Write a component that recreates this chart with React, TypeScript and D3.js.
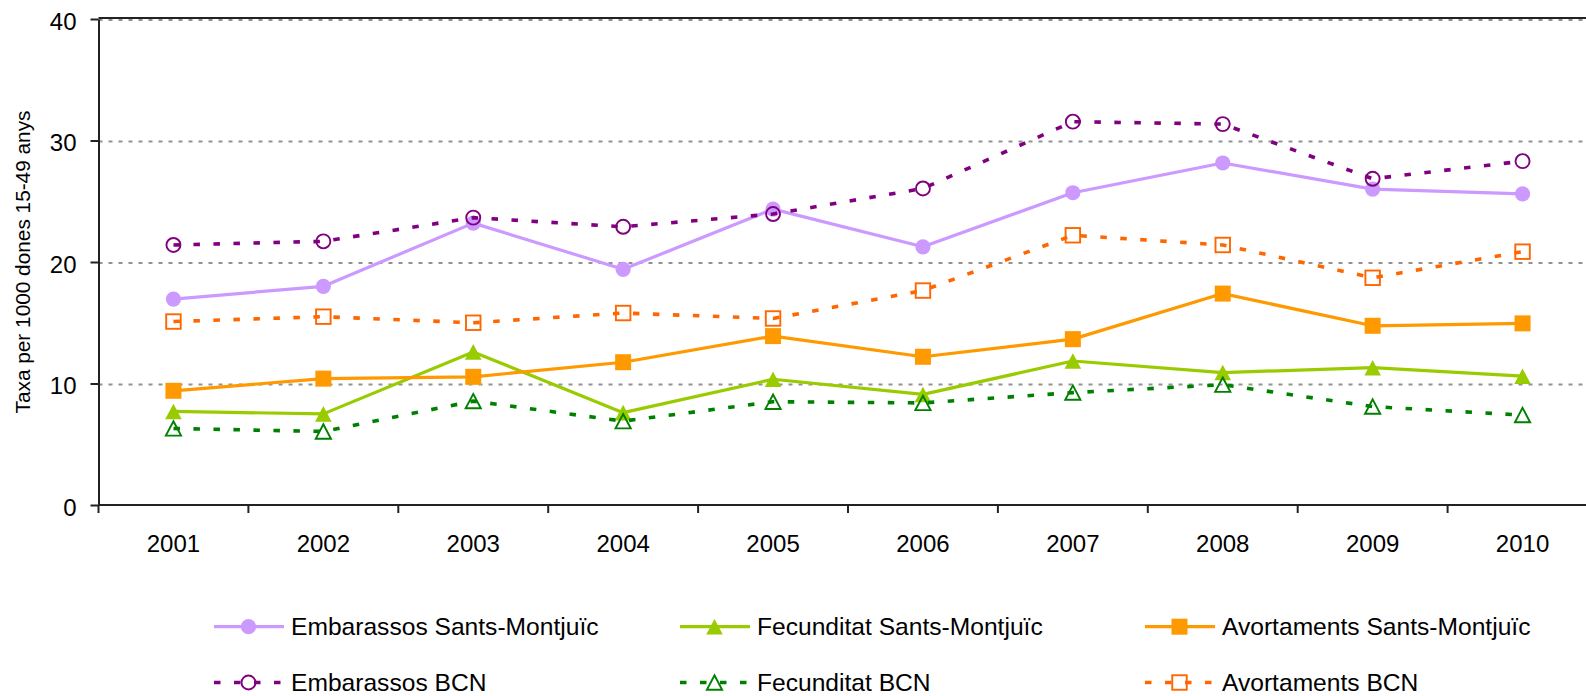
import * as React from 'react';
import { useEffect, useRef } from 'react';
import * as d3 from 'd3';

const years = ['2001', '2002', '2003', '2004', '2005', '2006', '2007', '2008', '2009', '2010'];
const embarassosSM = [16.95, 18.0, 23.2, 19.4, 24.35, 21.25, 25.7, 28.15, 26.0, 25.6];
const fecunditatSM = [7.7, 7.5, 12.6, 7.6, 10.35, 9.1, 11.85, 10.9, 11.3, 10.6];
const avortamentsSM = [9.4, 10.4, 10.55, 11.75, 13.9, 12.2, 13.65, 17.4, 14.75, 14.95];
const embarassosBCN = [21.4, 21.7, 23.65, 22.9, 23.95, 26.05, 31.55, 31.35, 26.85, 28.3];
const fecunditatBCN = [6.3, 6.05, 8.55, 6.9, 8.5, 8.4, 9.25, 9.9, 8.1, 7.4];
const avortamentsBCN = [15.1, 15.5, 15.0, 15.8, 15.35, 17.65, 22.2, 21.4, 18.7, 20.85];
const yTicks = [0, 10, 20, 30, 40];
const yTitle = 'Taxa per 1000 dones 15-49 anys';

type Marker = 'circle' | 'triangle' | 'square';
type Serie = { name: string; values: number[]; color: string; dashed: boolean; marker: Marker; filled: boolean };

// legend order (row by row), also drawing order
const series: Serie[] = [
  { name: 'Embarassos Sants-Montjuïc', values: embarassosSM, color: '#CC99FF', dashed: false, marker: 'circle', filled: true },
  { name: 'Fecunditat Sants-Montjuïc', values: fecunditatSM, color: '#99CC00', dashed: false, marker: 'triangle', filled: true },
  { name: 'Avortaments Sants-Montjuïc', values: avortamentsSM, color: '#FF9900', dashed: false, marker: 'square', filled: true },
  { name: 'Embarassos BCN', values: embarassosBCN, color: '#800080', dashed: true, marker: 'circle', filled: false },
  { name: 'Fecunditat BCN', values: fecunditatBCN, color: '#008000', dashed: true, marker: 'triangle', filled: false },
  { name: 'Avortaments BCN', values: avortamentsBCN, color: '#FF6600', dashed: true, marker: 'square', filled: false },
];

const FONT = '"Liberation Sans", Arial, sans-serif';
const DASH = '6.5,13.5';

function drawMarker(g: any, m: Marker, cx: number, cy: number, color: string, filled: boolean) {
  const fill = filled ? color : 'none';
  const sw = filled ? 0 : 1.9;
  if (m === 'circle') {
    g.append('circle').attr('cx', cx).attr('cy', cy).attr('r', filled ? 7.6 : 7)
      .attr('fill', fill).attr('stroke', color).attr('stroke-width', sw);
  } else if (m === 'square') {
    const s = filled ? 16 : 14.5;
    g.append('rect').attr('x', cx - s / 2).attr('y', cy - s / 2).attr('width', s).attr('height', s)
      .attr('fill', fill).attr('stroke', color).attr('stroke-width', sw);
  } else {
    const w = filled ? 8.3 : 7.6, h = filled ? 7.8 : 7.2;
    g.append('path').attr('d', `M${cx},${cy - h}L${cx + w},${cy + h}L${cx - w},${cy + h}Z`)
      .attr('fill', fill).attr('stroke', color).attr('stroke-width', sw).attr('stroke-linejoin', 'miter');
  }
}

export default function App() {
  const ref = useRef<SVGSVGElement>(null);

  useEffect(() => {
    const svg = d3.select(ref.current);
    svg.selectAll('*').remove();

    const left = 98.5, band = 149.9;
    const x = d3.scaleBand().domain(years).range([left, left + band * years.length]).padding(0);
    const y = d3.scaleLinear().domain([0, 40]).range([505, 19]);
    const cx = (d: string) => (x(d) as number) + x.bandwidth() / 2;

    // gridlines
    svg.append('g').selectAll('line')
      .data(yTicks.filter((t) => t > 0))
      .enter().append('line')
      .attr('x1', left).attr('x2', 1600)
      .attr('y1', (d) => y(d) + 1).attr('y2', (d) => y(d) + 1)
      .attr('stroke', '#929292').attr('stroke-width', 1.8).attr('stroke-dasharray', '4,6');

    // top border of plot area
    svg.append('line').attr('x1', left).attr('x2', 1600).attr('y1', y(40) - 1).attr('y2', y(40) - 1)
      .attr('stroke', '#222').attr('stroke-width', 2);

    // y axis
    const yAxis = svg.append('g').attr('transform', `translate(${left},0)`)
      .call(d3.axisLeft(y).tickValues(yTicks).tickSize(8).tickSizeOuter(0).tickPadding(14));
    yAxis.selectAll('path, line').attr('stroke', '#222').attr('stroke-width', 2);
    yAxis.selectAll('text').attr('dy', '0.42em').style('font-family', FONT).style('font-size', '24px').attr('fill', '#000');

    // x axis
    svg.append('line').attr('x1', left).attr('x2', 1600).attr('y1', y(0)).attr('y2', y(0))
      .attr('stroke', '#222').attr('stroke-width', 2);
    const edges = years.map((d) => x(d) as number).concat([left + band * years.length]);
    svg.append('g').selectAll('line').data(edges).enter().append('line')
      .attr('x1', (d) => d).attr('x2', (d) => d).attr('y1', y(0)).attr('y2', y(0) + 8)
      .attr('stroke', '#222').attr('stroke-width', 2);
    const xAxis = svg.append('g').attr('transform', `translate(0,${y(0)})`)
      .call(d3.axisBottom(x).tickSize(0).tickPadding(30));
    xAxis.select('.domain').remove();
    xAxis.selectAll('text').style('font-family', FONT).style('font-size', '24px').attr('fill', '#000');

    // y title
    svg.append('text')
      .attr('transform', `translate(30,${(y(0) + y(40)) / 2}) rotate(-90)`)
      .attr('text-anchor', 'middle')
      .style('font-family', FONT).style('font-size', '20.8px')
      .text(yTitle);

    // series
    const line = d3.line<number>().x((_, i) => cx(years[i])).y((v) => y(v));
    series.forEach((s) => {
      const g = svg.append('g');
      g.append('path').attr('d', line(s.values) as string)
        .attr('fill', 'none').attr('stroke', s.color)
        .attr('stroke-width', s.dashed ? 3.6 : 3.2)
        .attr('stroke-dasharray', s.dashed ? DASH : null)
        .attr('stroke-linejoin', 'round');
      s.values.forEach((v, i) => drawMarker(g, s.marker, cx(years[i]), y(v), s.color, s.filled));
    });

    // legend
    const colX = [214, 680, 1145];
    const rowY = [626.7, 682.5];
    series.forEach((s, i) => {
      const lx = colX[i % 3], ly = rowY[Math.floor(i / 3)];
      const g = svg.append('g');
      g.append('line').attr('x1', lx).attr('x2', lx + 70).attr('y1', ly).attr('y2', ly)
        .attr('stroke', s.color).attr('stroke-width', s.dashed ? 3.6 : 3.2)
        .attr('stroke-dasharray', s.dashed ? DASH : null);
      drawMarker(g, s.marker, lx + 34.5, ly, s.color, s.filled);
      g.append('text').attr('x', lx + 77).attr('y', ly + 8.5)
        .style('font-family', FONT).style('font-size', '24.6px').attr('fill', '#000')
        .text(s.name);
    });
  }, []);

  return (
    <div>
      <svg ref={ref} width={1586} height={696} style={{ position: 'absolute', left: 0, top: 0, background: '#fff' }} />
    </div>
  );
}
